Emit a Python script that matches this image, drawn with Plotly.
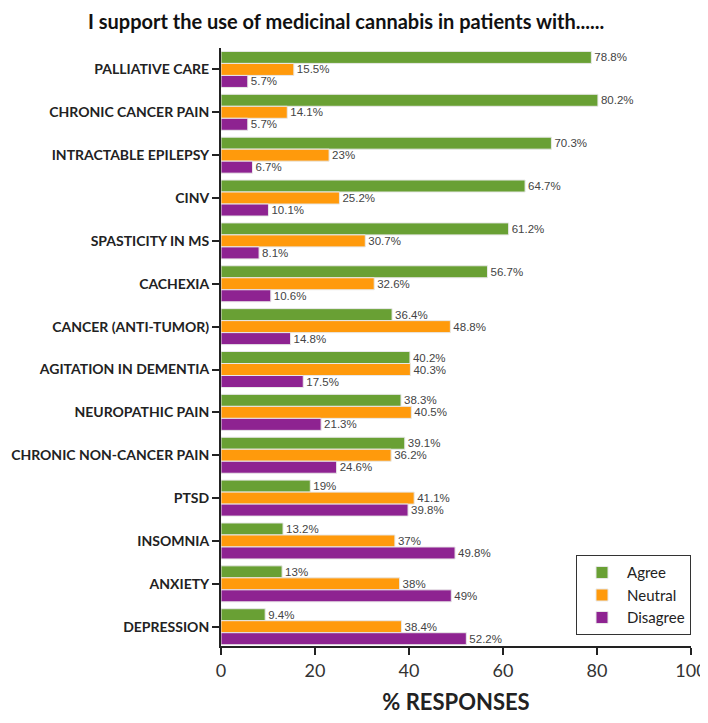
import plotly.graph_objects as go

categories = ["PALLIATIVE CARE", "CHRONIC CANCER PAIN", "INTRACTABLE EPILEPSY", "CINV",
              "SPASTICITY IN MS", "CACHEXIA", "CANCER (ANTI-TUMOR)", "AGITATION IN DEMENTIA",
              "NEUROPATHIC PAIN", "CHRONIC NON-CANCER PAIN", "PTSD", "INSOMNIA", "ANXIETY", "DEPRESSION"]
agree = [78.8, 80.2, 70.3, 64.7, 61.2, 56.7, 36.4, 40.2, 38.3, 39.1, 19, 13.2, 13, 9.4]
neutral = [15.5, 14.1, 23, 25.2, 30.7, 32.6, 48.8, 40.3, 40.5, 36.2, 41.1, 37, 38, 38.4]
disagree = [5.7, 5.7, 6.7, 10.1, 8.1, 10.6, 14.8, 17.5, 21.3, 24.6, 39.8, 49.8, 49, 52.2]
x_ticks = [0, 20, 40, 60, 80, 100]

series = [("Agree", agree, "#69a034"), ("Neutral", neutral, "#ff9a0c"), ("Disagree", disagree, "#8e2391")]

fig = go.Figure()
for name, vals, col in series:
    fig.add_trace(go.Bar(
        y=categories, x=vals, name=name, orientation="h",
        marker=dict(color=col, line=dict(color="#e8e8e8", width=1)),
        text=[f"{v:g}%" for v in vals], textposition="outside",
        textangle=0, constraintext="none",
        textfont=dict(family="Arial, Liberation Sans", size=11.5, color="#444"),
        cliponaxis=False,
    ))

fig.update_layout(
    width=700, height=707,
    barmode="group", bargap=0.16, bargroupgap=0.0,
    plot_bgcolor="white", paper_bgcolor="white",
    margin=dict(l=213, r=17, t=40, b=69, autoexpand=False),
    title=dict(text="I support the use of medicinal cannabis in patients with......",
               x=0.483, xanchor="center", y=1 - 14 / 707, yanchor="middle", automargin=False,
               font=dict(family="Lato", size=20, color="#111", weight="bold")),
    legend=dict(x=1.0, xanchor="right", y=0.018, yanchor="bottom",
                bordercolor="#333", borderwidth=1, bgcolor="white",
                font=dict(family="Lato", size=15, color="#222"),
                traceorder="normal", itemwidth=40, tracegroupgap=0),
    font=dict(family="Lato"),
)
fig.update_xaxes(range=[0, 100], tickvals=x_ticks, showgrid=False, zeroline=False,
                 automargin=False, showline=True, linecolor="#222", linewidth=2,
                 ticks="outside", ticklen=7, tickwidth=2, tickcolor="#222",
                 ticklabeloverflow="allow",
                 tickfont=dict(family="Lato", size=18, color="#333"),
                 title=dict(text="<b>% RESPONSES</b>", font=dict(family="Lato", size=22, color="#222"), standoff=21))
fig.update_yaxes(categoryorder="array", categoryarray=categories, automargin=False,
                 range=[13.45, -0.5], showgrid=False, zeroline=False,
                 showline=True, linecolor="#222", linewidth=2,
                 ticks="outside", ticklen=7, tickwidth=2, tickcolor="#222",
                 tickfont=dict(family="Lato", size=14, color="#222", weight="bold"))

fig.write_html("out.html")
